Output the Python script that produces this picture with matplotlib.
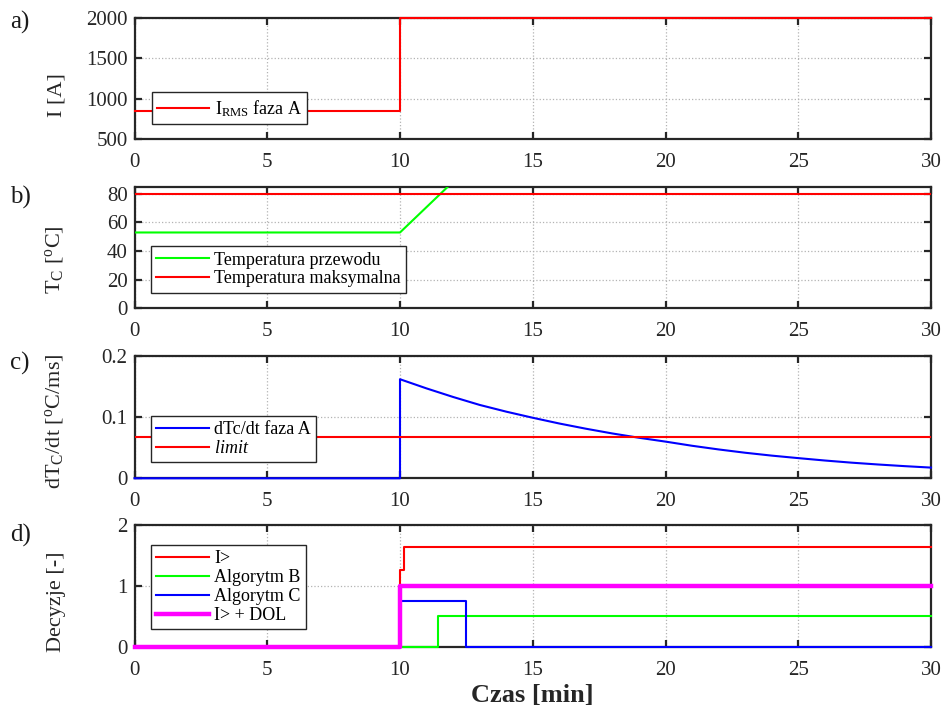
import matplotlib
matplotlib.use("Agg")
import matplotlib.pyplot as plt

plt.rcParams['font.family'] = ['Liberation Serif', 'DejaVu Serif']
plt.rcParams['mathtext.fontset'] = 'custom'
plt.rcParams['mathtext.rm'] = 'Liberation Serif'
plt.rcParams['mathtext.it'] = 'Liberation Serif:italic'
plt.rcParams['mathtext.bf'] = 'Liberation Serif:bold'

# ---- data (time in minutes) ----
time_ticks = [0, 5, 10, 15, 20, 25, 30]

# a) RMS current, phase A (step change)
t_current = [0, 10, 30]
i_rms = [850, 2000, 2000]

# b) conductor temperature and maximum temperature
t_temp = [0, 10, 12]
temp_conductor = [53, 53, 88.5]
t_tmax = [0, 30]
temp_max = [80, 80]

# c) temperature rate of change
t_rate = [0, 10, 10, 11, 12, 13, 14, 15, 16, 17, 18, 19, 20,
          21, 22, 23, 24, 25, 26, 27, 28, 29, 30]
rate_a = [0, 0, 0.162, 0.147, 0.133, 0.120, 0.109, 0.099, 0.0896, 0.0811,
          0.0733, 0.0663, 0.060, 0.0532, 0.0472, 0.0418, 0.0371, 0.033,
          0.0291, 0.0256, 0.0226, 0.0199, 0.0175]
t_limit = [0, 30]
rate_limit = [0.067, 0.067]

# d) protection decisions (step-post)
t_overcurrent = [0, 10, 10.15, 30]
dec_overcurrent = [0, 1.25, 1.63, 1.63]
t_alg_b = [0, 11.45, 30]
dec_alg_b = [0, 0.5, 0.5]
t_alg_c = [0, 10, 12.5, 30]
dec_alg_c = [0, 0.75, 0, 0]
t_dol = [0, 10, 30]
dec_dol = [0, 1, 1]

RED, GREEN, BLUE, MAGENTA = '#ff0000', '#00ff00', '#0000ff', '#ff00ff'

W, H = 945, 709
fig = plt.figure(figsize=(W / 100, H / 100), dpi=100)

left = 134.5 / W
width = (931 - 134.5) / W
panels = [(18, 139.3), (186.7, 308.3), (356, 478.3), (524.7, 646.7)]
axes = []
for top, bot in panels:
    ax = fig.add_axes([left, 1 - bot / H, width, (bot - top) / H])
    axes.append(ax)

TICK_FS = 15
LEG_FS = 13
LABEL_FS = 16


def style(ax, ylim, yticks):
    ax.set_xlim(0, 30)
    ax.set_ylim(*ylim)
    ax.set_xticks(time_ticks)
    ax.set_yticks(yticks)
    ax.grid(True, linestyle=':', color='0.7', linewidth=0.9)
    ax.tick_params(direction='in', length=5, width=1.6, top=True, right=True,
                   labelsize=TICK_FS, colors='#262626', labelcolor='#262626')
    ax.tick_params(axis='x', pad=10)
    ax.tick_params(axis='y', pad=5)
    for s in ax.spines.values():
        s.set_linewidth(1.6)
        s.set_color('#262626')


def legend(ax, x, y):
    leg = ax.legend(loc='lower left', bbox_to_anchor=(x, y), borderaxespad=0,
                    fontsize=LEG_FS, fancybox=False, framealpha=1,
                    edgecolor='#262626', handlelength=2.9, handletextpad=0.3,
                    borderpad=0.3, labelspacing=0.1)
    leg.get_frame().set_linewidth(1.0)
    return leg


def ylabel(ax, text, yfrac):
    ax.set_ylabel(text, fontsize=LABEL_FS, color='#262626')
    ax.yaxis.set_label_coords((66 - 134.5) / (931 - 134.5), yfrac)


# a)
ax = axes[0]
ax.plot(t_current, i_rms, color=RED, lw=1.5, drawstyle='steps-post',
        clip_on=False, zorder=3, label=r'I$_{\mathrm{RMS}}$ faza A')
style(ax, (500, 2000), [500, 1000, 1500, 2000])
ylabel(ax, 'I [A]', 0.361)
legend(ax, 0.0216, 0.126)

# b)
ax = axes[1]
ax.plot(t_temp, temp_conductor, color=GREEN, lw=1.5, zorder=3,
        label='Temperatura przewodu')
ax.plot(t_tmax, temp_max, color=RED, lw=1.5, zorder=3,
        label='Temperatura maksymalna')
style(ax, (0, 85), [0, 20, 40, 60, 80])
ylabel(ax, r'T$_{\mathrm{C}}$ [$^{\mathrm{o}}$C]', 0.397)
legend(ax, 0.0207, 0.128)

# c)
ax = axes[2]
ax.plot(t_rate, rate_a, color=BLUE, lw=1.5, clip_on=False, zorder=3,
        label='dTc/dt faza A')
ax.plot(t_limit, rate_limit, color=RED, lw=1.5, zorder=3,
        label=r'$\mathit{limit}$')
style(ax, (0, 0.2), [0, 0.1, 0.2])
ax.set_yticklabels(['0', '0.1', '0.2'])
ylabel(ax, r'dT$_{\mathrm{C}}$/dt [$^{\mathrm{o}}$C/ms]', 0.469)
legend(ax, 0.0207, 0.131)

# d)
ax = axes[3]
ax.plot(t_overcurrent, dec_overcurrent, color=RED, lw=1.5,
        drawstyle='steps-post', clip_on=False, zorder=3, label='I>')
ax.plot(t_alg_b, dec_alg_b, color=GREEN, lw=1.5,
        drawstyle='steps-post', clip_on=False, zorder=3, label='Algorytm B')
ax.plot(t_alg_c, dec_alg_c, color=BLUE, lw=1.5,
        drawstyle='steps-post', clip_on=False, zorder=3, label='Algorytm C')
ax.plot(t_dol, dec_dol, color=MAGENTA, lw=3.2,
        drawstyle='steps-post', clip_on=False, zorder=3, label='I> + DOL')
style(ax, (0, 2), [0, 1, 2])
ylabel(ax, 'Decyzje [-]', 0.366)
legend(ax, 0.0207, 0.143)
ax.set_xlabel('Czas [min]', fontsize=19, fontweight='bold', color='#262626',
              labelpad=3)

# panel letters
for letter, yc in zip(['a)', 'b)', 'c)', 'd)'], [22, 197, 363, 535]):
    fig.text(10 / W, 1 - yc / H, letter, fontsize=18, va='center', ha='left',
             color='#1a1a1a')

fig.savefig('out.png', dpi=100)
